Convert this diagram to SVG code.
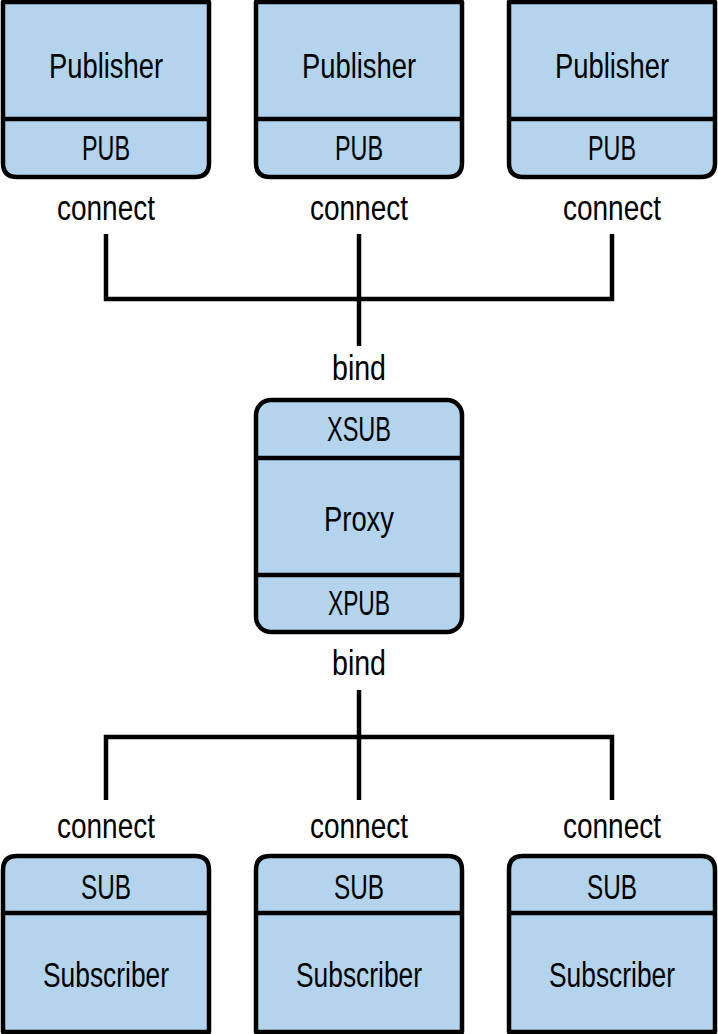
<svg xmlns="http://www.w3.org/2000/svg" width="718" height="1034" viewBox="0 0 718 1034">
<style>
.box{fill:#b3d4ec;stroke:#000;stroke-width:4.5;stroke-linejoin:round}
.div{stroke:#000;stroke-width:4.5}
.t{font-family:"Liberation Sans",Arial,sans-serif;font-size:35px;fill:#000;text-anchor:middle}
.c{fill:none;stroke:#000;stroke-width:4.5}
</style>
<rect width="718" height="1034" fill="#fff"/>
<g id="pub1">
<path class="box" d="M3,2 H209 V163 Q209,177 195,177 H17 Q3,177 3,163 Z"/>
<line class="div" x1="3" y1="119" x2="209" y2="119"/>
<text class="t" x="106" y="78" textLength="114" lengthAdjust="spacingAndGlyphs">Publisher</text>
<text class="t" x="106" y="160" textLength="48" lengthAdjust="spacingAndGlyphs">PUB</text>
<text class="t" x="106" y="220" textLength="98" lengthAdjust="spacingAndGlyphs">connect</text>
</g>
<g id="pub2">
<path class="box" d="M256,2 H462 V163 Q462,177 448,177 H270 Q256,177 256,163 Z"/>
<line class="div" x1="256" y1="119" x2="462" y2="119"/>
<text class="t" x="359" y="78" textLength="114" lengthAdjust="spacingAndGlyphs">Publisher</text>
<text class="t" x="359" y="160" textLength="48" lengthAdjust="spacingAndGlyphs">PUB</text>
<text class="t" x="359" y="220" textLength="98" lengthAdjust="spacingAndGlyphs">connect</text>
</g>
<g id="pub3">
<path class="box" d="M509,2 H715 V163 Q715,177 701,177 H523 Q509,177 509,163 Z"/>
<line class="div" x1="509" y1="119" x2="715" y2="119"/>
<text class="t" x="612" y="78" textLength="114" lengthAdjust="spacingAndGlyphs">Publisher</text>
<text class="t" x="612" y="160" textLength="48" lengthAdjust="spacingAndGlyphs">PUB</text>
<text class="t" x="612" y="220" textLength="98" lengthAdjust="spacingAndGlyphs">connect</text>
</g>
<g id="proxy">
<text class="t" x="359" y="380" textLength="54" lengthAdjust="spacingAndGlyphs">bind</text>
<rect class="box" x="256" y="400" width="206" height="232" rx="15"/>
<line class="div" x1="256" y1="458" x2="462" y2="458"/>
<line class="div" x1="256" y1="575" x2="462" y2="575"/>
<text class="t" x="359" y="441" textLength="64" lengthAdjust="spacingAndGlyphs">XSUB</text>
<text class="t" x="359" y="531" textLength="70" lengthAdjust="spacingAndGlyphs">Proxy</text>
<text class="t" x="359" y="615" textLength="62" lengthAdjust="spacingAndGlyphs">XPUB</text>
<text class="t" x="359" y="675" textLength="54" lengthAdjust="spacingAndGlyphs">bind</text>
</g>
<g id="sub1">
<text class="t" x="106" y="838" textLength="98" lengthAdjust="spacingAndGlyphs">connect</text>
<path class="box" d="M3,1032 V870 Q3,856 17,856 H195 Q209,856 209,870 V1032 Z"/>
<line class="div" x1="3" y1="913" x2="209" y2="913"/>
<text class="t" x="106" y="899" textLength="50" lengthAdjust="spacingAndGlyphs">SUB</text>
<text class="t" x="106" y="987" textLength="126" lengthAdjust="spacingAndGlyphs">Subscriber</text>
</g>
<g id="sub2">
<text class="t" x="359" y="838" textLength="98" lengthAdjust="spacingAndGlyphs">connect</text>
<path class="box" d="M256,1032 V870 Q256,856 270,856 H448 Q462,856 462,870 V1032 Z"/>
<line class="div" x1="256" y1="913" x2="462" y2="913"/>
<text class="t" x="359" y="899" textLength="50" lengthAdjust="spacingAndGlyphs">SUB</text>
<text class="t" x="359" y="987" textLength="126" lengthAdjust="spacingAndGlyphs">Subscriber</text>
</g>
<g id="sub3">
<text class="t" x="612" y="838" textLength="98" lengthAdjust="spacingAndGlyphs">connect</text>
<path class="box" d="M509,1032 V870 Q509,856 523,856 H701 Q715,856 715,870 V1032 Z"/>
<line class="div" x1="509" y1="913" x2="715" y2="913"/>
<text class="t" x="612" y="899" textLength="50" lengthAdjust="spacingAndGlyphs">SUB</text>
<text class="t" x="612" y="987" textLength="126" lengthAdjust="spacingAndGlyphs">Subscriber</text>
</g>
<g id="connectors">
<path class="c" d="M106,234 V299 H612 V234"/>
<path class="c" d="M359,234 V346"/>
<path class="c" d="M359,690 V800"/>
<path class="c" d="M106,800 V737 H612 V800"/>
</g>
</svg>
